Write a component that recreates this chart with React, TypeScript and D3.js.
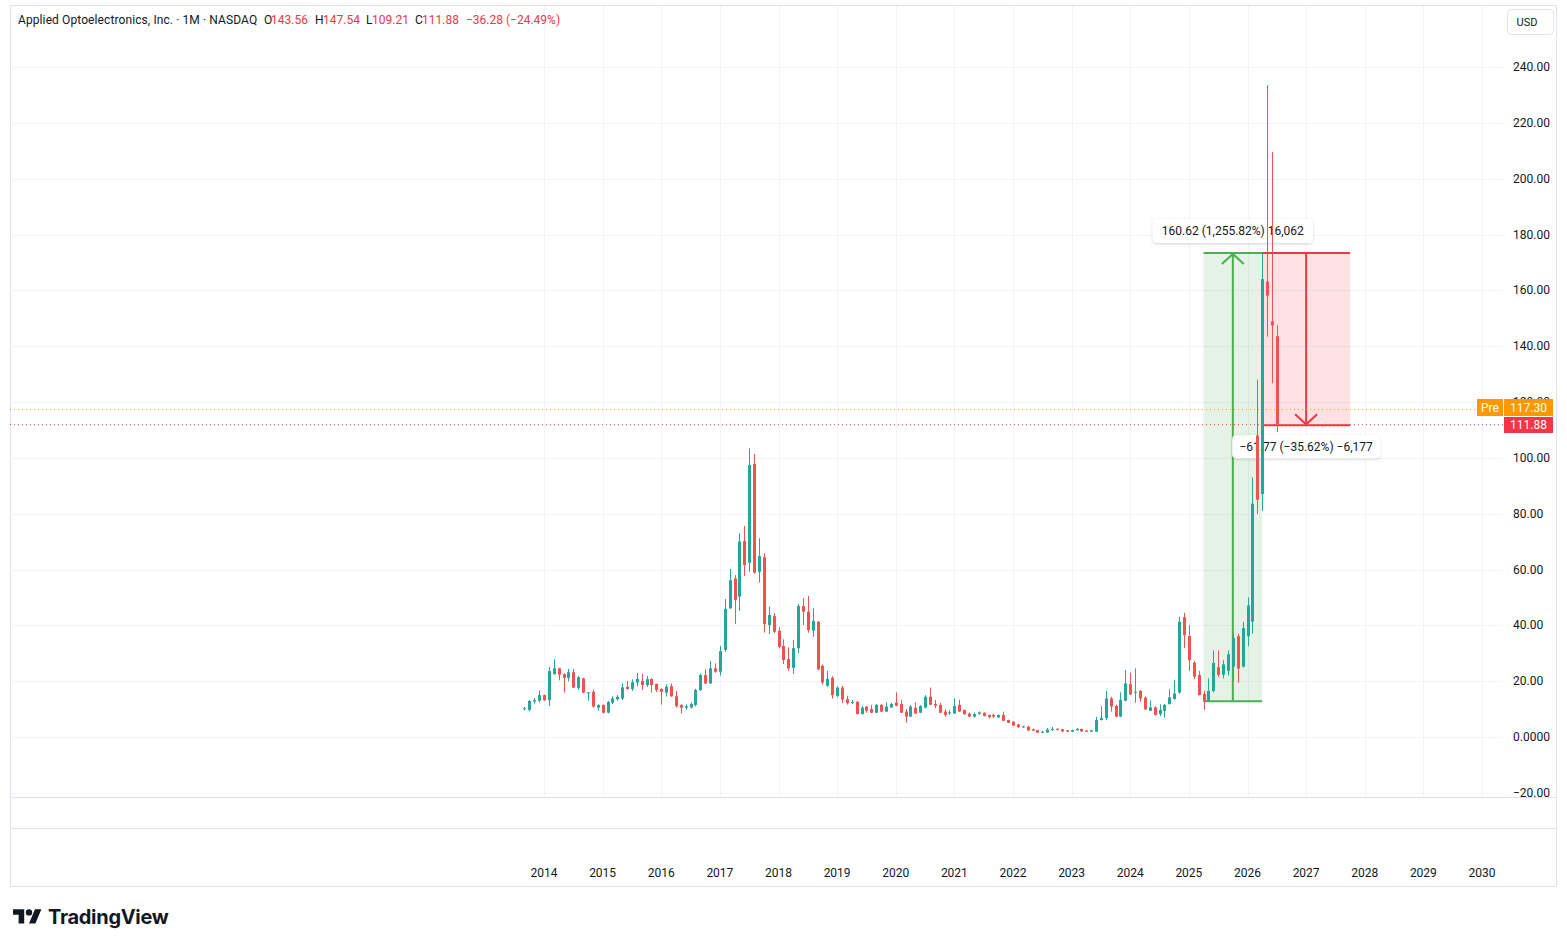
import React from 'react';
import * as d3 from 'd3';

// monthly candles, first bar = Sep 2013
const START_YEAR = 2013;
const START_MONTH = 8;

const opens = [
  10.0, 9.7, 12.7, 13.0,
  15.0, 13.2, 22.5, 24.6, 22.5, 21.2, 23.2, 17.6, 21.0, 15.8, 16.2, 10.5,
  11.5, 8.7, 12.3, 13.5, 13.8, 18.0, 17.2, 19.5, 20.1, 18.6, 20.8, 19.0,
  17.2, 15.9, 18.2, 14.6, 11.5, 10.5, 10.6, 11.5, 16.8, 22.2, 19.2, 24.6,
  23.4, 31.2, 46.1, 56.8, 50.3, 70.2, 62.4, 97.8, 59.2, 64.4, 40.1, 43.3,
  38.0, 32.6, 27.9, 24.8, 31.8, 46.9, 44.9, 38.1, 41.3, 25.5, 18.3, 21.2,
  14.7, 17.7, 13.6, 12.2, 12.6, 8.2, 10.9, 10.0, 8.7, 11.5, 9.1, 10.6,
  12.3, 11.8, 9.1, 7.3, 10.5, 8.7, 10.5, 14.4, 11.8, 11.5, 9.1, 8.5,
  8.4, 11.5, 9.7, 8.4, 7.3, 8.3, 8.7, 7.9, 7.9, 7.0, 7.9, 6.1,
  5.5, 4.5, 3.5, 3.7, 2.8, 2.5, 1.6, 1.6, 2.6, 2.9, 2.8, 2.4,
  1.9, 2.4, 2.9, 2.3, 1.9, 1.9, 6.1, 6.8, 13.8, 11.1, 7.3, 13.0,
  18.9, 15.9, 16.5, 14.1, 9.4, 10.6, 8.2, 9.4, 11.8, 13.6, 15.9, 42.9,
  36.2, 26.6, 22.2, 15.4, 13.0, 16.5, 25.0, 22.3, 23.7, 25.2, 36.1, 25.2,
  36.1, 41.3, 108.0, 87.0, 163.1, 148.9, 143.56,
];

const highs = [
  10.8, 13.2, 14.0, 16.6,
  15.2, 25.2, 27.9, 24.8, 22.8, 24.4, 24.4, 21.8, 21.2, 16.1, 17.0, 11.7,
  11.6, 12.9, 14.6, 15.0, 19.2, 20.1, 20.7, 22.9, 22.7, 21.9, 21.0, 19.2,
  17.4, 18.9, 19.2, 16.5, 11.7, 11.7, 12.4, 17.3, 22.8, 24.4, 27.2, 26.4,
  32.6, 49.4, 60.2, 58.0, 73.0, 75.6, 103.4, 101.4, 71.2, 65.8, 46.7, 44.3,
  39.3, 35.0, 32.1, 34.7, 47.6, 49.7, 50.5, 46.1, 41.5, 26.0, 23.7, 21.8,
  18.1, 18.3, 14.8, 13.3, 12.9, 11.1, 11.1, 11.5, 11.8, 11.8, 12.4, 12.2,
  16.0, 13.3, 10.0, 11.5, 12.4, 11.4, 15.0, 17.7, 13.3, 12.2, 10.0, 9.6,
  13.8, 13.3, 9.8, 8.8, 8.8, 9.2, 8.8, 8.0, 8.4, 8.0, 9.1, 6.2,
  5.6, 4.7, 4.0, 4.0, 3.0, 2.6, 2.2, 3.2, 3.6, 3.2, 2.9, 2.5,
  2.6, 3.2, 3.0, 2.5, 2.6, 7.2, 11.0, 16.5, 14.4, 11.6, 16.0, 24.0,
  23.0, 24.6, 16.8, 14.6, 13.1, 11.0, 11.7, 11.8, 17.1, 20.4, 43.1, 44.5,
  40.1, 27.2, 23.7, 16.6, 21.0, 31.0, 31.0, 27.5, 31.0, 37.0, 37.0, 41.3,
  50.0, 93.0, 128.0, 173.41, 233.5, 209.5, 147.54,
];

const lows = [
  9.5, 9.2, 12.0, 12.4,
  12.9, 11.1, 22.3, 20.3, 15.9, 19.9, 17.5, 16.8, 15.7, 13.0, 10.5, 9.4,
  8.4, 8.5, 11.8, 13.0, 13.2, 17.0, 16.5, 18.1, 16.8, 17.9, 15.9, 16.1,
  11.6, 14.5, 14.4, 10.5, 8.4, 9.8, 10.2, 11.0, 16.5, 19.0, 19.0, 23.0,
  22.0, 30.6, 45.9, 40.5, 45.2, 57.7, 59.2, 58.5, 55.3, 37.4, 36.9, 37.3,
  31.7, 26.1, 23.7, 22.6, 30.0, 40.1, 37.4, 35.9, 24.0, 18.8, 18.0, 13.8,
  14.2, 12.1, 11.6, 11.8, 8.1, 8.1, 8.7, 8.6, 8.6, 9.0, 9.0, 10.5,
  11.0, 8.6, 5.1, 7.2, 8.3, 8.6, 10.3, 11.4, 10.3, 8.6, 7.2, 7.9,
  8.3, 9.0, 8.0, 7.2, 6.9, 8.0, 7.4, 6.6, 6.8, 6.9, 5.7, 5.0,
  3.9, 3.3, 3.3, 2.2, 2.1, 1.5, 1.4, 1.5, 2.2, 2.4, 1.9, 1.8,
  1.8, 2.3, 1.9, 1.8, 1.8, 1.8, 5.9, 6.0, 9.1, 7.1, 7.1, 12.8,
  15.0, 12.3, 12.6, 9.7, 9.3, 7.7, 7.5, 7.0, 11.6, 13.4, 15.5, 31.8,
  23.7, 20.8, 14.9, 9.7, 12.8, 16.0, 21.5, 21.0, 22.0, 20.0, 19.4, 24.9,
  32.5, 37.0, 80.0, 81.0, 143.4, 126.7, 109.21,
];

const closes = [
  10.3, 12.9, 13.2, 15.0,
  13.2, 23.6, 24.6, 22.3, 21.2, 23.2, 17.7, 21.4, 15.9, 16.0, 10.9, 11.5,
  8.7, 12.6, 13.8, 14.4, 17.8, 17.2, 19.6, 20.8, 18.6, 20.7, 18.6, 16.8,
  16.2, 18.0, 14.6, 11.0, 10.5, 11.0, 11.8, 16.8, 22.2, 19.2, 24.6, 23.4,
  30.8, 45.9, 56.2, 49.1, 70.0, 61.6, 97.4, 58.9, 64.8, 40.5, 43.7, 37.7,
  32.3, 27.6, 24.6, 31.8, 46.9, 44.9, 38.3, 41.6, 24.2, 19.5, 20.8, 15.0,
  17.7, 13.4, 12.1, 12.5, 8.2, 10.5, 9.4, 8.7, 11.5, 9.1, 10.9, 11.8,
  11.2, 8.7, 7.3, 10.9, 8.4, 11.1, 14.4, 11.6, 11.2, 8.7, 7.9, 8.8,
  11.1, 9.1, 8.2, 7.3, 8.2, 8.8, 7.5, 7.1, 7.3, 7.9, 5.8, 5.1,
  4.1, 3.5, 3.8, 2.3, 2.3, 1.6, 1.9, 2.7, 2.9, 2.6, 2.0, 1.9,
  2.5, 2.9, 2.0, 1.9, 2.4, 6.1, 6.8, 13.8, 10.9, 7.3, 13.3, 19.2,
  15.3, 16.2, 13.8, 9.9, 10.6, 7.9, 9.7, 11.5, 14.2, 15.6, 41.3, 36.5,
  27.5, 21.6, 15.0, 12.8, 16.5, 26.5, 22.3, 26.0, 29.6, 35.4, 24.5, 39.0,
  47.1, 83.6, 85.0, 164.0, 158.1, 147.4, 111.88,
];

const yearTicks = d3.range(2014, 2031);
const priceTicks = d3.range(-20, 241, 20);

const lastClose = 111.88;
const prePrice = 117.3;

const rangeUp = { from: 139, to: 151, low: 12.79, high: 173.41, label: '160.62 (1,255.82%) 16,062' };
const rangeDown = { from: 151, to: 169, high: 173.41, low: 111.64, label: '−61.77 (−35.62%) −6,177' };

const UP = '#26a69a';
const DOWN = '#ef5350';
const RED = '#f23645';
const GREEN = '#4caf50';
const GRID = '#f0f3fa';
const BORDER = '#e0e3eb';
const TEXT = '#131722';
const FONT = 'Roboto, "Noto Sans", sans-serif';

const monthIndex = (year: number, month: number) => (year - START_YEAR) * 12 + month - START_MONTH;

const x = d3.scaleLinear().domain([monthIndex(2014, 0), monthIndex(2030, 0)]).range([544, 1482]);
const y = d3.scaleLinear().domain([0, 240]).range([737, 67]);

const fmtPrice = (v: number) => {
  if (v === 0) return '0.0000';
  if (v < 0) return '−' + Math.abs(v).toFixed(2);
  return v.toFixed(2);
};

const App: React.FC = () => {
  const plotLeft = 10;
  const plotRight = 1503;
  const paneBottom = 797;

  const candles = opens.map((o, i) => ({ o, h: highs[i], l: lows[i], c: closes[i], i }));

  const upTop = y(rangeUp.high);
  const upBot = y(rangeUp.low);
  const upX0 = x(rangeUp.from);
  const upX1 = x(rangeUp.to);
  const upMid = (upX0 + upX1) / 2;

  const dnTop = y(rangeDown.high);
  const dnBot = y(rangeDown.low);
  const dnX0 = x(rangeDown.from);
  const dnX1 = x(rangeDown.to);
  const dnMid = (dnX0 + dnX1) / 2;

  const yClose = y(lastClose);
  const yPre = y(prePrice);

  return (
    <svg width={1567} height={947} style={{ position: 'absolute', left: 0, top: 0, background: '#fff' }}
      fontFamily={FONT}>
      <defs>
        <filter id="shadow" x="-10%" y="-30%" width="120%" height="160%">
          <feDropShadow dx="0" dy="1" stdDeviation="1.5" floodColor="#000" floodOpacity="0.18" />
        </filter>
        <clipPath id="label120">
          <rect x={1505} y={380} width={60} height={19} />
        </clipPath>
      </defs>

      {/* frame */}
      <rect x={10.5} y={5.5} width={1546} height={881} fill="#fff" stroke={BORDER} />
      <line x1={10} x2={1557} y1={paneBottom + 0.5} y2={paneBottom + 0.5} stroke={BORDER} />
      <line x1={10} x2={1557} y1={828.5} y2={828.5} stroke={BORDER} />

      {/* grid */}
      {priceTicks.map((v) => (
        <line key={'h' + v} x1={plotLeft} x2={plotRight} y1={Math.round(y(v)) + 0.5} y2={Math.round(y(v)) + 0.5} stroke={GRID} />
      ))}
      {yearTicks.map((yr) => {
        const xx = Math.round(x(monthIndex(yr, 0))) + 0.5;
        return <line key={'v' + yr} x1={xx} x2={xx} y1={6} y2={paneBottom} stroke={GRID} />;
      })}

      {/* price range tools */}
      <rect x={upX0} y={upTop} width={upX1 - upX0} height={upBot - upTop} fill="rgba(76,175,80,0.15)" />
      <rect x={dnX0} y={dnTop} width={dnX1 - dnX0} height={dnBot - dnTop} fill="rgba(242,54,69,0.15)" />
      <line x1={upX0} x2={upX1} y1={upTop} y2={upTop} stroke={GREEN} strokeWidth={2} />
      <line x1={upX0} x2={upX1} y1={upBot} y2={upBot} stroke={GREEN} strokeWidth={2} />
      <line x1={upMid} x2={upMid} y1={upBot} y2={upTop + 1} stroke={GREEN} strokeWidth={2} />
      <polyline points={`${upMid - 11},${upTop + 11} ${upMid},${upTop + 1} ${upMid + 11},${upTop + 11}`} fill="none" stroke={GREEN} strokeWidth={2} />

      <line x1={dnX0} x2={dnX1} y1={dnTop} y2={dnTop} stroke={RED} strokeWidth={2} />
      <line x1={dnX0} x2={dnX1} y1={dnBot} y2={dnBot} stroke={RED} strokeWidth={2} />
      <line x1={dnMid} x2={dnMid} y1={dnTop} y2={dnBot - 1} stroke={RED} strokeWidth={2} />
      <polyline points={`${dnMid - 11},${dnBot - 11} ${dnMid},${dnBot - 1} ${dnMid + 11},${dnBot - 11}`} fill="none" stroke={RED} strokeWidth={2} />

      <g filter="url(#shadow)">
        <rect x={upMid - 80} y={upTop - 34} width={160} height={24} rx={4} fill="#fff" />
        <rect x={dnMid - 74} y={dnBot + 10} width={148} height={23} rx={4} fill="#fff" />
      </g>
      <text x={upMid} y={upTop - 18} textAnchor="middle" fontSize={12} fill={TEXT}>{rangeUp.label}</text>
      <text x={dnMid} y={dnBot + 26} textAnchor="middle" fontSize={12} fill={TEXT}>{rangeDown.label}</text>

      {/* current price lines */}
      <line x1={plotLeft} x2={1477} y1={yPre} y2={yPre} stroke="#ff9800" strokeDasharray="1 3" />
      <line x1={plotLeft} x2={plotRight} y1={yClose} y2={yClose} stroke={RED} strokeDasharray="1 3" />

      {/* candles */}
      {candles.map((d) => {
        const cx = Math.round(x(d.i));
        const color = d.c >= d.o ? UP : DOWN;
        const top = y(Math.max(d.o, d.c));
        const bot = y(Math.min(d.o, d.c));
        return (
          <g key={d.i}>
            <rect x={cx} y={y(d.h)} width={1} height={Math.max(1, y(d.l) - y(d.h))} fill={color} />
            <rect x={cx - 1} y={top} width={3} height={Math.max(1, bot - top)} fill={color} />
          </g>
        );
      })}

      {/* price axis (120.00 sits under the Pre badge, only its top shows) */}
      {priceTicks.map((v) => (
        <text key={'t' + v} x={1513} y={y(v) + 4} fontSize={12} fill={TEXT}
          clipPath={v === 120 ? 'url(#label120)' : undefined}>{fmtPrice(v)}</text>
      ))}
      <rect x={1507.5} y={9.5} width={46} height={25} rx={4} fill="#fff" stroke={BORDER} />
      <text x={1527} y={26} textAnchor="middle" fontSize={11} fill={TEXT}>USD</text>

      <rect x={1477} y={399} width={26} height={17} fill="#ff9800" />
      <text x={1490} y={411.5} textAnchor="middle" fontSize={12} fill="#fff">Pre</text>
      <rect x={1504} y={399} width={49} height={17} fill="#ff9800" />
      <text x={1528.5} y={411.5} textAnchor="middle" fontSize={12} fill="#fff">{prePrice.toFixed(2)}</text>
      <rect x={1504} y={417} width={49} height={16} fill={RED} />
      <text x={1528.5} y={429} textAnchor="middle" fontSize={12} fill="#fff">{lastClose.toFixed(2)}</text>

      {/* time axis */}
      {yearTicks.map((yr) => (
        <text key={'y' + yr} x={x(monthIndex(yr, 0))} y={877} textAnchor="middle" fontSize={12} fill={TEXT}>{yr}</text>
      ))}

      {/* header */}
      <g fontSize={12}>
        <text x={18} y={24} fill={TEXT} letterSpacing={0.1}>Applied Optoelectronics, Inc. · 1M · NASDAQ</text>
        <text x={264} y={24} fill={TEXT}>O</text>
        <text x={271} y={24} fill={RED}>143.56</text>
        <text x={315} y={24} fill={TEXT}>H</text>
        <text x={323} y={24} fill={RED}>147.54</text>
        <text x={366} y={24} fill={TEXT}>L</text>
        <text x={372} y={24} fill={RED}>109.21</text>
        <text x={415} y={24} fill={TEXT}>C</text>
        <text x={422} y={24} fill={RED}>111.88</text>
        <text x={466} y={24} fill={RED}>−36.28 (−24.49%)</text>
      </g>

      {/* logo */}
      <g transform="translate(13,906) scale(0.8)" fill={TEXT}>
        <path d="M14 22H7V11H0V4h14v18zM28 22h-8l7.5-18h8L28 22z" />
        <circle cx={20} cy={8} r={4} />
      </g>
      <text x={48} y={924} fontSize={20} fontWeight={700} fill={TEXT} fontFamily="Inter, Roboto, sans-serif" letterSpacing={-0.3}>TradingView</text>
    </svg>
  );
};

export default App;
